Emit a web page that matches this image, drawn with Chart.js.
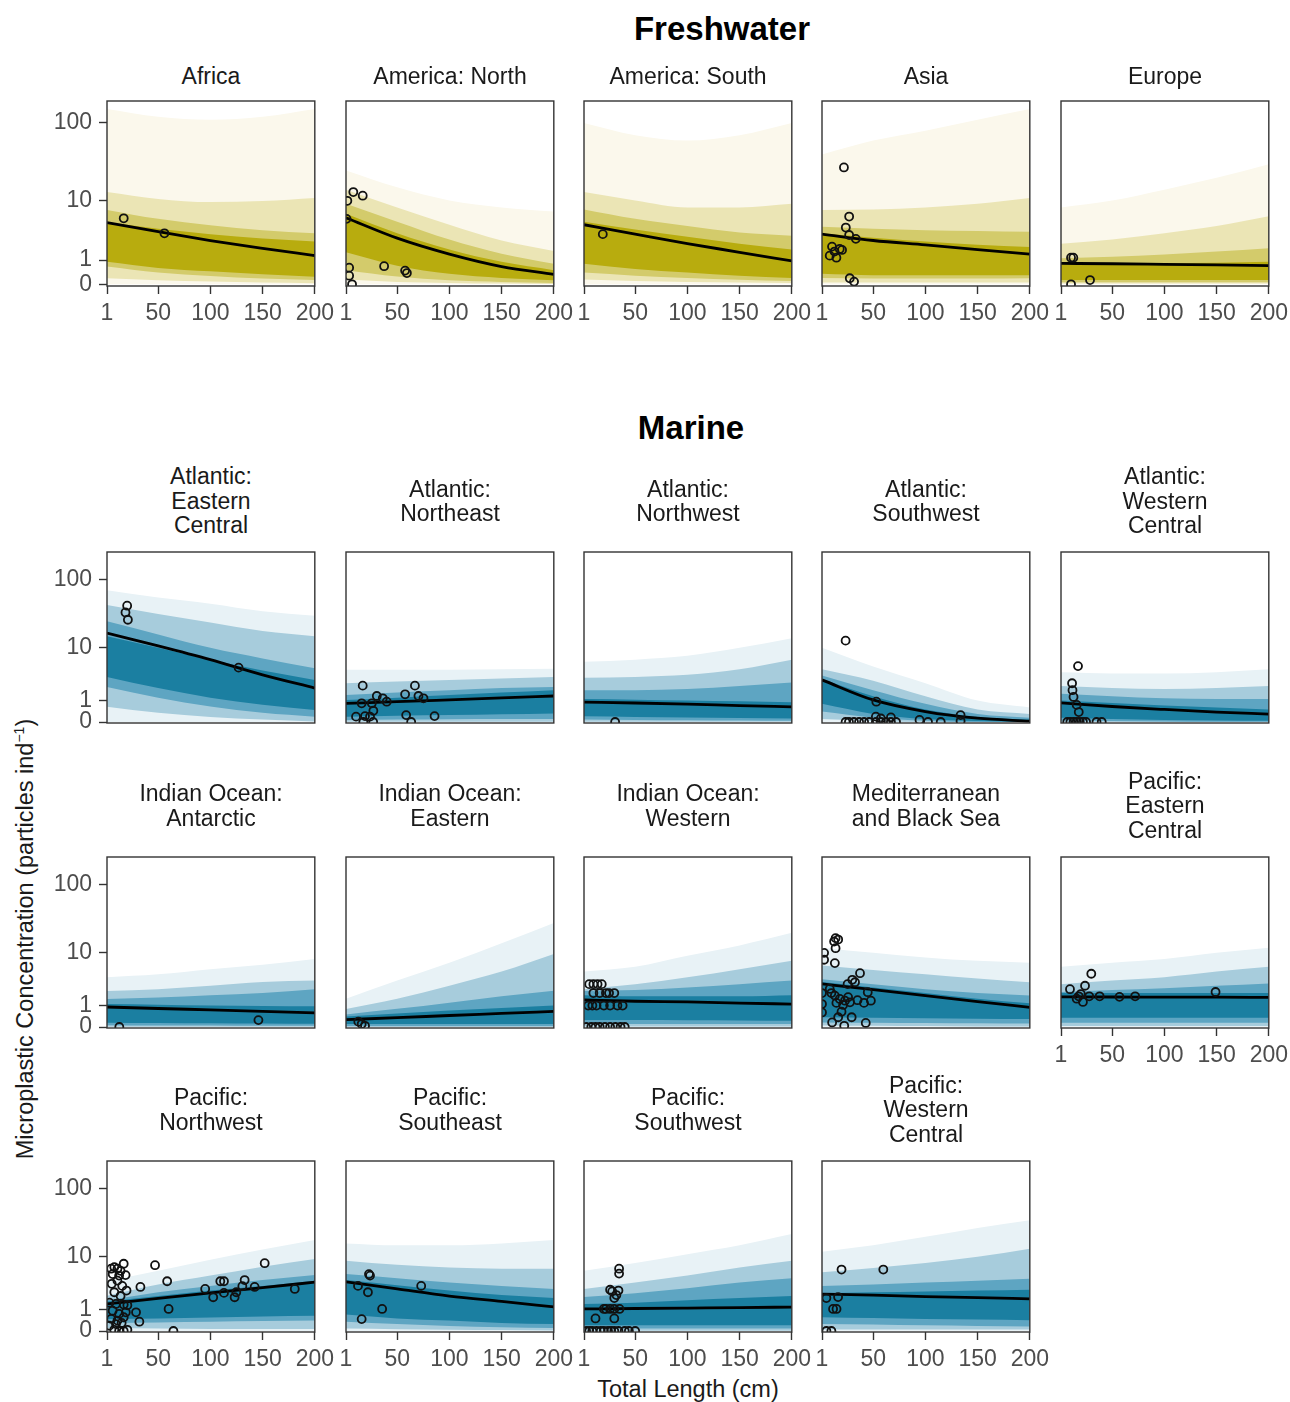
<!DOCTYPE html>
<html>
<head>
<meta charset="utf-8">
<title>Microplastic concentration by total length</title>
<script src="https://cdn.jsdelivr.net/npm/chart.js@4.4.1/dist/chart.umd.min.js"></script>
<style>
  body { margin: 0; background: #ffffff; }
  #page { position: relative; width: 1290px; height: 1402px; overflow: hidden; font-family: "Liberation Sans", Arial, sans-serif; color: #1a1a1a; background: #ffffff; }
  .panel { position: absolute; }
  .strip { position: absolute; width: 240px; height: 90px; display: flex; flex-direction: column; justify-content: center; align-items: center; font-size: 23px; line-height: 24.5px; color: #1a1a1a; white-space: nowrap; }
  .heading { position: absolute; font-weight: bold; font-size: 33px; color: #000; transform: translateX(-50%); white-space: nowrap; }
  .axis-title { position: absolute; font-size: 23.5px; color: #1a1a1a; white-space: nowrap; }
  .axis-title sup { font-size: 14px; }
</style>
</head>
<body>
<div id="page">
  <div class="heading" style="left:722px; top:10px;">Freshwater</div>
  <div class="heading" style="left:691px; top:409px;">Marine</div>
  <div class="axis-title" style="left:688px; top:1376px; transform:translateX(-50%);">Total Length (cm)</div>
  <div class="axis-title" style="left:25px; top:939px; transform:translate(-50%,-50%) rotate(-90deg);">Microplastic Concentration (particles ind<sup>−1</sup>)</div>
</div>
<script>
// -- DATA ------------------------------------------------------------//
// concentration in particles per individual, read at these lengths (cm)
const xGrid = [1, 50, 100, 150, 200];
const xTicks = [1, 50, 100, 150, 200];
const yTickVals = [0, 1, 10, 100];
const yTickLabels = ['0', '1', '10', '100'];

const panelNames = [
	['Africa'], ['America: North'], ['America: South'], ['Asia'], ['Europe'],
	['Atlantic:', 'Eastern', 'Central'], ['Atlantic:', 'Northeast'], ['Atlantic:', 'Northwest'], ['Atlantic:', 'Southwest'], ['Atlantic:', 'Western', 'Central'],
	['Indian Ocean:', 'Antarctic'], ['Indian Ocean:', 'Eastern'], ['Indian Ocean:', 'Western'], ['Mediterranean', 'and Black Sea'], ['Pacific:', 'Eastern', 'Central'],
	['Pacific:', 'Northwest'], ['Pacific:', 'Southeast'], ['Pacific:', 'Southwest'], ['Pacific:', 'Western', 'Central']
];

const medianLine = [
	[4.85, 3.5, 2.5, 1.8, 1.27],
	[5.7, 2.74, 1.37, 0.66, 0.33],
	[4.5, 3.2, 2.2, 1.5, 0.95],
	[3.2, 2.5, 2.08, 1.7, 1.37],
	[0.82, 0.8, 0.77, 0.74, 0.71],
	[16.7, 10.7, 6.5, 3.6, 2.0],
	[0.83, 0.93, 1.05, 1.18, 1.32],
	[0.9, 0.85, 0.78, 0.7, 0.63],
	[2.9, 1.04, 0.4, 0.13, 0.03],
	[0.86, 0.65, 0.5, 0.38, 0.29],
	[0.91, 0.82, 0.74, 0.66, 0.58],
	[0.27, 0.35, 0.45, 0.55, 0.66],
	[1.4, 1.3, 1.25, 1.17, 1.1],
	[3.03, 2.35, 1.76, 1.27, 0.89],
	[1.65, 1.64, 1.63, 1.62, 1.6],
	[1.4, 1.88, 2.43, 3.07, 3.85],
	[3.9, 2.9, 2.1, 1.6, 1.18],
	[1.04, 1.07, 1.1, 1.13, 1.17],
	[2.3, 2.2, 2.05, 1.95, 1.82]
];

// inner band (darkest)
const band1Hi = [
	[4.9, 3.9, 3.2, 2.7, 2.4],
	[6.5, 3.3, 1.7, 0.9, 0.5],
	[5.0, 3.8, 2.9, 2.2, 1.7],
	[3.3, 2.8, 2.4, 2.1, 1.9],
	[0.78, 0.8, 0.82, 0.85, 0.9],
	[15, 10, 6.5, 4.3, 2.9],
	[1.04, 1.2, 1.4, 1.6, 1.8],
	[1.1, 1.05, 1.0, 0.95, 0.9],
	[3.0, 1.3, 0.5, 0.18, 0.08],
	[1.0, 0.85, 0.7, 0.6, 0.5],
	[1.1, 1.05, 1.0, 0.98, 0.95],
	[0.4, 0.55, 0.7, 0.85, 1.0],
	[1.8, 1.7, 1.7, 1.7, 1.8],
	[3.3, 2.6, 2.0, 1.5, 1.15],
	[2.0, 2.0, 2.0, 2.0, 2.0],
	[1.6, 2.1, 2.7, 3.3, 4.1],
	[4.2, 3.4, 2.7, 2.2, 1.9],
	[1.4, 1.5, 1.7, 1.9, 2.1],
	[2.4, 2.5, 2.6, 2.7, 2.8]
];
const band1Lo = [
	[0.9, 0.6, 0.45, 0.33, 0.24],
	[1.5, 0.7, 0.35, 0.2, 0.12],
	[0.8, 0.55, 0.4, 0.28, 0.2],
	[0.35, 0.3, 0.3, 0.3, 0.3],
	[0.13, 0.13, 0.13, 0.13, 0.13],
	[3.3, 2.0, 1.2, 0.75, 0.48],
	[0.19, 0.22, 0.25, 0.28, 0.32],
	[0.2, 0.18, 0.16, 0.14, 0.12],
	[0.8, 0.3, 0.1, 0.03, 0],
	[0.15, 0.1, 0.07, 0.05, 0.04],
	[0.15, 0.14, 0.13, 0.12, 0.11],
	[0.1, 0.1, 0.1, 0.1, 0.1],
	[0.25, 0.25, 0.24, 0.23, 0.22],
	[0.37, 0.35, 0.33, 0.31, 0.3],
	[0.35, 0.35, 0.35, 0.35, 0.35],
	[0.48, 0.5, 0.55, 0.6, 0.64],
	[0.7, 0.5, 0.4, 0.3, 0.25],
	[0.2, 0.2, 0.2, 0.2, 0.2],
	[0.56, 0.52, 0.48, 0.45, 0.42]
];
const band2Hi = [
	[7.4, 5.5, 4.4, 3.7, 3.3],
	[9, 5, 2.6, 1.4, 0.8],
	[7.5, 5.5, 4.3, 3.4, 3.0],
	[4.2, 3.9, 3.7, 3.6, 3.5],
	[1.1, 1.2, 1.35, 1.55, 1.8],
	[25, 16, 10, 6.8, 4.7],
	[1.4, 1.6, 1.8, 2.0, 2.1],
	[1.8, 1.8, 1.9, 2.2, 2.6],
	[3.5, 1.8, 0.8, 0.3, 0.15],
	[1.5, 1.3, 1.15, 1.1, 1.1],
	[1.47, 1.6, 1.8, 2.0, 2.4],
	[0.5, 0.8, 1.2, 1.7, 2.24],
	[2.2, 2.3, 2.6, 3.0, 3.5],
	[3.7, 3.0, 2.4, 2.0, 1.76],
	[2.1, 2.3, 2.5, 2.8, 3.1],
	[1.7, 2.5, 3.3, 4.2, 5.1],
	[5.3, 4.5, 3.8, 3.3, 2.9],
	[2.0, 2.4, 3.0, 3.8, 4.5],
	[3.3, 3.5, 3.8, 4.1, 4.4]
];
const band2Lo = [
	[0.66, 0.4, 0.27, 0.18, 0.13],
	[0.5, 0.25, 0.12, 0.07, 0.04],
	[0.4, 0.28, 0.2, 0.14, 0.1],
	[0.2, 0.18, 0.18, 0.18, 0.19],
	[0.06, 0.06, 0.06, 0.06, 0.06],
	[2.1, 1.2, 0.65, 0.35, 0.19],
	[0.07, 0.08, 0.09, 0.1, 0.1],
	[0.08, 0.07, 0.06, 0.05, 0.04],
	[0.4, 0.15, 0.04, 0, 0],
	[0.05, 0.03, 0.02, 0.01, 0.01],
	[0.06, 0.05, 0.05, 0.04, 0.04],
	[0.03, 0.03, 0.03, 0.03, 0.03],
	[0.1, 0.1, 0.1, 0.1, 0.1],
	[0.16, 0.15, 0.14, 0.13, 0.12],
	[0.15, 0.15, 0.15, 0.15, 0.15],
	[0.3, 0.32, 0.35, 0.38, 0.4],
	[0.35, 0.25, 0.18, 0.13, 0.1],
	[0.08, 0.08, 0.08, 0.08, 0.08],
	[0.25, 0.23, 0.2, 0.18, 0.16]
];
const band3Hi = [
	[13, 10.5, 9.5, 9.8, 10.8],
	[14, 8, 4.5, 2.5, 1.6],
	[13, 10, 8, 8, 9],
	[7.4, 7.5, 8, 9, 10.8],
	[2.2, 2.6, 3.3, 4.3, 6],
	[43, 32, 24, 18, 15],
	[2.5, 2.7, 2.9, 3.1, 3.3],
	[3.2, 3.3, 3.6, 4.5, 6.5],
	[4.5, 2.8, 1.3, 0.5, 0.3],
	[2.2, 2.0, 1.9, 2.0, 2.2],
	[2.2, 2.4, 2.8, 3.3, 3.5],
	[0.79, 1.5, 2.8, 5, 9.6],
	[2.4, 3, 4, 5.5, 7.5],
	[6.3, 5.3, 4.5, 3.8, 3.25],
	[3, 3.5, 4, 5, 6],
	[2.14, 3.5, 5, 7, 9.3],
	[8.7, 7.5, 6.8, 6.5, 6.5],
	[2.9, 3.8, 5, 6.8, 8.7],
	[5.7, 6.7, 8, 10, 13.3]
];
const band3Lo = [
	[0.19, 0.12, 0.08, 0.05, 0.03],
	[0.15, 0.07, 0.04, 0.02, 0.01],
	[0.15, 0.1, 0.07, 0.05, 0.04],
	[0.05, 0.05, 0.05, 0.05, 0.05],
	[0.02, 0.02, 0.02, 0.02, 0.02],
	[0.64, 0.35, 0.18, 0.08, 0.02],
	[0.01, 0.01, 0.01, 0.01, 0.01],
	[0.01, 0.01, 0.01, 0.01, 0.01],
	[0.1, 0.03, 0, 0, 0],
	[0, 0, 0, 0, 0],
	[0.01, 0.01, 0.01, 0.01, 0.01],
	[0, 0, 0, 0, 0],
	[0.02, 0.02, 0.02, 0.02, 0.02],
	[0.05, 0.04, 0.03, 0.02, 0.02],
	[0.03, 0.03, 0.03, 0.03, 0.03],
	[0.1, 0.08, 0.07, 0.07, 0.07],
	[0.08, 0.06, 0.04, 0.03, 0.02],
	[0.01, 0.01, 0.01, 0.01, 0.01],
	[0.05, 0.05, 0.05, 0.05, 0.05]
];
// outer band (faintest)
const band4Hi = [
	[150, 120, 110, 120, 150],
	[25, 15, 10, 8, 7],
	[100, 70, 60, 70, 100],
	[40, 60, 80, 110, 150],
	[8, 10, 14, 20, 30],
	[70, 55, 45, 35, 30],
	[4.4, 4.4, 4.4, 4.5, 4.6],
	[6, 6.5, 7.5, 10, 14],
	[10, 5, 2.5, 1, 0.6],
	[4, 3.8, 3.8, 4, 4.5],
	[4, 4.5, 5.5, 6.5, 8],
	[1.5, 3.5, 7, 14, 28],
	[5, 6, 9, 13, 20],
	[12, 10, 8.5, 7.5, 7],
	[6, 7, 8, 10, 12],
	[4, 6, 9, 13, 18],
	[16, 15, 15, 16, 18],
	[6, 8, 11, 15, 22],
	[12, 15, 20, 27, 35]
];
const band4Lo = [0, 0, 0, 0, 0];

// observed fish: [total length, particles]
const observed = [
	[[17, 5.6], [56, 3.3]],
	[[2.3, 9.9], [8, 13], [17, 11.6], [1.5, 5.5], [4, 0.61], [4, 0.28], [6.8, 0], [37.5, 0.68], [57.6, 0.48], [59.3, 0.38]],
	[[19, 3.2]],
	[[22, 27.3], [27, 5.95], [23.8, 4.07], [27, 3.1], [33.4, 2.67], [10.6, 1.94], [18, 1.75], [13, 1.55], [8.4, 1.27], [14.8, 1.14], [20.2, 1.67], [27.6, 0.19], [31.7, 0.08]],
	[[10.6, 1.14], [12.8, 1.14], [10.6, 0], [28.8, 0.13]],
	[[20.3, 42], [18.7, 33.6], [21, 26.3], [127, 4.8]],
	[[17, 2.24], [67, 2.24], [57.6, 1.45], [30.5, 1.32], [36.2, 1.15], [70.4, 1.32], [75.2, 1.15], [40, 0.93], [16, 0.83], [25.7, 0.83], [27.2, 0.44], [10.6, 0.19], [19.2, 0.21], [24, 0.19], [17.6, 0], [27, 0], [58.6, 0.25], [63.4, 0], [85.8, 0.21]],
	[[30.8, 0]],
	[[23.6, 12.9], [53, 0.93], [23.6, 0], [26.8, 0], [31.6, 0], [36.5, 0], [41.3, 0], [46.1, 0], [52.6, 0], [57.4, 0], [62.2, 0], [67, 0], [71.9, 0], [52.6, 0.19], [57.4, 0.12], [67, 0.16], [94.4, 0.07], [102.5, 0], [114.7, 0], [133.7, 0.25], [133.7, 0.03]],
	[[17.3, 5.1], [11.6, 2.5], [12, 1.8], [13, 1.25], [16, 0.74], [18, 0.38], [7, 0], [10, 0], [13, 0], [16, 0], [19, 0], [22, 0], [25, 0], [35, 0], [40, 0]],
	[[12.8, 0], [146, 0.25]],
	[[12.8, 0.19], [16, 0.1], [19.2, 0.04]],
	[[6, 3], [10, 3], [14, 3], [18, 3], [22, 2], [10, 2], [16, 2], [25, 2], [30, 2], [5, 1], [9, 1], [13, 1], [20, 1], [26, 1], [33, 1], [38, 1], [3, 0], [8, 0], [12, 0], [16, 0], [21, 0], [26, 0], [31, 0], [36, 0], [40, 0]],
	[[14, 16.7], [16.5, 15.9], [12.6, 14.9], [14, 11.8], [3, 10], [3, 7.8], [13.3, 6.9], [37.4, 4.7], [30, 3.6], [32.6, 3.25], [25.5, 3.0], [44.8, 2.08], [8.4, 2.43], [10, 2.0], [13.3, 1.76], [18, 1.48], [23, 1.34], [27.8, 1.22], [14.8, 1.18], [21.2, 1.04], [26, 1.62], [35, 1.38], [41.2, 1.18], [47.8, 1.34], [1, 2.0], [1, 1.1], [1, 0.6], [19.7, 0.64], [16.5, 0.37], [29.4, 0.37], [10.7, 0.16], [22.3, 0.04], [42.9, 0.14]],
	[[9.6, 2.4], [22, 1.25], [24, 2.8], [30, 4.6], [18, 1.7], [28, 1.7], [38, 1.7], [57, 1.65], [72, 1.7], [149, 2.1], [16, 1.5], [20, 1.9]],
	[[47, 7.4], [58.6, 4.0], [33, 3.16], [60, 1.04], [28.8, 0.83], [32, 0.35], [64.6, 0], [95, 2.9], [102.7, 1.98], [109.5, 4.0], [113, 4.0], [113, 2.43], [123.2, 1.98], [124.8, 2.5], [130.6, 3.26], [132.8, 4.2], [142.4, 3.16], [152, 7.97], [180.8, 2.9],
	 [5, 6.5], [8, 6.9], [11, 6.5], [14, 6.0], [17, 7.8], [6.4, 5.3], [12.6, 5.0], [18.8, 5.1], [5.5, 3.6], [11, 4.1], [15.6, 3.3], [19.7, 2.7], [8, 2.5], [14, 2.1], [3.3, 1.5], [9.6, 1.4], [17, 1.35], [20.5, 1.3], [6.4, 0.93], [12.6, 0.74], [19, 0.83], [5, 0.48], [11, 0.4], [17, 0.56], [3.3, 0.19], [8, 0.04], [12.6, 0], [17, 0], [20.5, 0.04], [9.6, 0.25], [15, 0.3]],
	[[12.5, 3.3], [23, 5.3], [24, 5.0], [22, 2.5], [35.6, 1.04], [16, 0.47], [73, 3.3]],
	[[34.6, 6.5], [34.6, 5.4], [26, 2.8], [28, 2.6], [34, 2.7], [30, 1.9], [32, 2.2], [26, 1.04], [35, 1.04], [30, 1.04], [22, 1.04], [20, 1.04], [30, 0.5], [12, 0.5], [3, 0], [6, 0], [9, 0], [13, 0], [17, 0], [20, 0], [24, 0], [27, 0], [30, 0], [34, 0], [40, 0], [44, 0], [50, 0]],
	[[19.7, 6.3], [59.7, 6.3], [5.2, 1.9], [16.4, 2.0], [11.6, 1.04], [14.9, 1.04], [5.2, 0], [10, 0]]
];

// -- LAYOUT ----------------------------------------------------------//
const panelRow = [0, 0, 0, 0, 0, 1, 1, 1, 1, 1, 2, 2, 2, 2, 2, 3, 3, 3, 3];
const panelCol = [0, 1, 2, 3, 4, 0, 1, 2, 3, 4, 0, 1, 2, 3, 4, 0, 1, 2, 3];
const colLeft = [107, 346, 584, 822, 1061];
const rowTop = [101, 552, 857, 1161];
const rowHeight = [185, 171, 171, 171];
const rowYMin = [-0.021, -0.014, -0.014, -0.014];
const rowYMax = [2.277, 2.388, 2.388, 2.388];
const stripCenter = [76, 501, 805.5, 1109.5];
const boxWidth = 208;
const axisSpace = 100, padTop = 25, padRight = 25, xAxisSpace = 50;

const freshColours = ['#b8ac0e', '#d3cb6b', '#ebe5b5', '#fbf8ec'];
const marineColours = ['#1b7fa1', '#5ea5c2', '#a7ccdc', '#e8f2f6'];
const fontFamily = '"Liberation Sans", Arial, sans-serif';

const toLog = v => Math.log10(v + 1);
const pairs = (xs, vs) => xs.map((x, i) => ({ x: x, y: toLog(vs[i]) }));

// panel border on all four sides
const framePlugin = {
	id: 'frame',
	afterDatasetsDraw(chart) {
		const a = chart.chartArea;
		const ctx = chart.ctx;
		ctx.save();
		ctx.strokeStyle = '#333333';
		ctx.lineWidth = 1.4;
		ctx.strokeRect(a.left, a.top, a.right - a.left, a.bottom - a.top);
		ctx.restore();
	}
};

function band(vals, colour, fillTo) {
	return {
		data: pairs(xGrid, vals),
		borderWidth: 0,
		pointRadius: 0,
		backgroundColor: colour,
		fill: fillTo,
		cubicInterpolationMode: 'monotone',
	};
}

const page = document.getElementById('page');

panelNames.forEach((lines, i) => {
	const row = panelRow[i];
	const col = panelCol[i];
	const colours = row === 0 ? freshColours : marineColours;
	const showX = row === 0 || row === 3 || (row === 2 && col === 4);
	const showY = col === 0;
	const h = rowHeight[row];

	// strip title
	const strip = document.createElement('div');
	strip.className = 'strip';
	strip.style.left = (colLeft[col] + boxWidth / 2 - 120) + 'px';
	strip.style.top = (stripCenter[row] - 45) + 'px';
	lines.forEach(t => {
		const d = document.createElement('div');
		d.textContent = t;
		strip.appendChild(d);
	});
	page.appendChild(strip);

	const wrap = document.createElement('div');
	wrap.className = 'panel';
	wrap.style.left = (colLeft[col] - axisSpace) + 'px';
	wrap.style.top = (rowTop[row] - padTop) + 'px';
	const canvas = document.createElement('canvas');
	canvas.width = axisSpace + boxWidth + padRight;
	canvas.height = padTop + h + xAxisSpace;
	wrap.appendChild(canvas);
	page.appendChild(wrap);

	new Chart(canvas, {
		type: 'line',
		data: {
			datasets: [
				{
					data: observed[i].map(p => ({ x: p[0], y: toLog(p[1]) })),
					showLine: false,
					pointRadius: 4,
					pointHoverRadius: 4,
					pointBorderWidth: 1.8,
					pointBorderColor: '#111111',
					pointBackgroundColor: 'rgba(0,0,0,0)',
				},
				{
					data: pairs(xGrid, medianLine[i]),
					borderColor: '#000000',
					borderWidth: 2.8,
					pointRadius: 0,
					fill: false,
					cubicInterpolationMode: 'monotone',
				},
				band(band1Hi[i], colours[0], '+1'), band(band1Lo[i], colours[0], false),
				band(band2Hi[i], colours[1], '+1'), band(band2Lo[i], colours[1], false),
				band(band3Hi[i], colours[2], '+1'), band(band3Lo[i], colours[2], false),
				band(band4Hi[i], colours[3], '+1'), band(band4Lo, colours[3], false),
			],
		},
		options: {
			responsive: false,
			animation: false,
			events: [],
			layout: { padding: { top: padTop, right: padRight, left: 0, bottom: 0 } },
			plugins: {
				legend: { display: false },
				tooltip: { enabled: false },
			},
			scales: {
				x: {
					type: 'linear',
					min: 1,
					max: 200,
					afterBuildTicks: s => { s.ticks = xTicks.map(v => ({ value: v })); },
					afterFit: s => { s.height = xAxisSpace; },
					ticks: {
						autoSkip: false,
						maxRotation: 0,
						padding: 6,
						color: showX ? '#4d4d4d' : 'rgba(0,0,0,0)',
						font: { family: fontFamily, size: 23 },
						callback: v => String(v),
					},
					grid: {
						drawOnChartArea: false,
						drawTicks: true,
						tickLength: 8,
						tickColor: showX ? '#333333' : 'rgba(0,0,0,0)',
						tickWidth: 1.4,
					},
					border: { display: false },
				},
				y: {
					type: 'linear',
					min: rowYMin[row],
					max: rowYMax[row],
					afterBuildTicks: s => { s.ticks = yTickVals.map(v => ({ value: toLog(v) })); },
					afterFit: s => { s.width = axisSpace; },
					ticks: {
						autoSkip: false,
						padding: 7,
						color: showY ? '#4d4d4d' : 'rgba(0,0,0,0)',
						font: { family: fontFamily, size: 23 },
						callback: (v, idx) => yTickLabels[idx],
					},
					grid: {
						drawOnChartArea: false,
						drawTicks: true,
						tickLength: 8,
						tickColor: showY ? '#333333' : 'rgba(0,0,0,0)',
						tickWidth: 1.4,
					},
					border: { display: false },
				},
			},
		},
		plugins: [framePlugin],
	});
});
</script>
</body>
</html>
